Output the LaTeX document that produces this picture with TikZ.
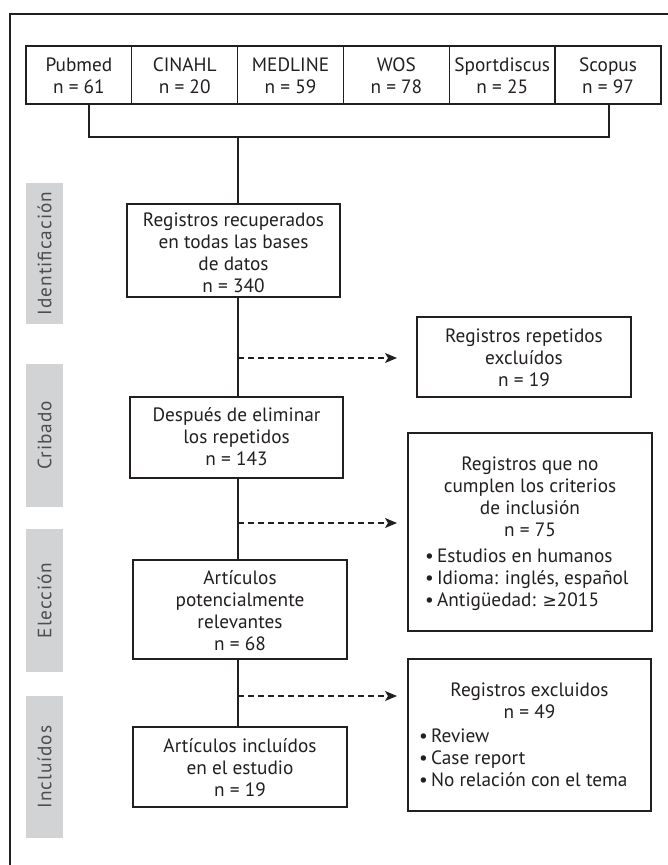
\documentclass[tikz,border=0pt]{standalone}
\usepackage{fontspec}
\setmainfont{PT Sans}
\newfontfamily\symf{DejaVu Sans}
\newfontfamily\lblfont[LetterSpace=5]{PT Sans}
\usetikzlibrary{arrows.meta}
\definecolor{ink}{HTML}{231F20}
\definecolor{bandc}{HTML}{D1D3D4}
\definecolor{lblc}{HTML}{4D4D4F}
\tikzset{
  box/.style={draw=ink, line width=1.3pt, fill=white, inner sep=0pt},
  txt/.style={text=ink, font=\fontsize{19.3}{22}\selectfont, align=center, inner sep=0pt},
  ltxt/.style={text=ink, font=\fontsize{19.3}{22}\selectfont, align=left, inner sep=0pt, anchor=west},
  bandbox/.style={fill=bandc, draw=none, inner sep=0pt, minimum width=37pt},
  lbl/.style={text=lblc, rotate=90, font=\lblfont\fontsize{19.3}{22}\selectfont, inner sep=0pt},
  link/.style={draw=ink, line width=1.3pt},
  dlink/.style={draw=ink, line width=1.3pt, dash pattern=on 6pt off 4pt, -{Stealth[length=12pt,width=10pt,inset=3pt]}},
}
\begin{document}
\begin{tikzpicture}[x=1pt,y=-1pt]
\useasboundingbox (0,0) rectangle (668,865);
% frame
\draw[ink, line width=2.4pt] (10,865) -- (10,14) -- (668,14);

% database boxes
\foreach \i/\nm/\lab/\n in {0/db1/Pubmed/61,1/db2/CINAHL/20,2/db3/MEDLINE/59,3/db4/WOS/78,4/db5/Sportdiscus/25,5/db6/Scopus/97}{
  \node[box, minimum width=105.8pt, minimum height=58pt] (\nm) at ({78.9+105.83*\i},75) {};
  \node[txt] (\nm t) at ({78.9+105.83*\i},78.4) {\strut\lab\\n = \n\strut};
}

% phase bands
\node[bandbox, minimum height=141pt] (bI) at (44.5,253.5) {};
\node[lbl] (lI) at (44.5,253.5) {Identificación};
\node[bandbox, minimum height=143pt] (bC) at (44.5,435.5) {};
\node[lbl] (lC) at (44.5,435.5) {Cribado};
\node[bandbox, minimum height=143pt] (bE) at (44.5,600.5) {};
\node[lbl] (lE) at (44.5,600.5) {Elección};
\node[bandbox, minimum height=142pt] (bN) at (44.5,767) {};
\node[lbl] (lN) at (44.5,767) {Incluídos};

% main boxes
\node[box, minimum width=213pt, minimum height=93pt] (b1) at (233.5,250.5) {};
\node[txt] (b1t) at (233.5,255) {\strut Registros recuperados\\en todas las bases\\de datos\\n = 340\strut};

\node[box, minimum width=213pt, minimum height=81pt] (b2) at (236.5,437.5) {};
\node[txt] (b2t) at (236.5,438.6) {\strut Después de eliminar\\los repetidos\\n = 143\strut};

\node[box, minimum width=214pt, minimum height=99pt] (b3) at (240,609.5) {};
\node[txt] (b3t) at (240,612.6) {\strut Artículos\\potencialmente\\relevantes\\n = 68\strut};

\node[box, minimum width=214pt, minimum height=80pt] (b4) at (240,767) {};
\node[txt] (b4t) at (240,769.6) {\strut Artículos incluídos\\en el estudio\\n = 19\strut};

% exclusion boxes
\node[box, minimum width=214pt, minimum height=80pt] (e1) at (524,357) {};
\node[txt] (e1t) at (524,359.6) {\strut Registros repetidos\\excluídos\\n = 19\strut};

\node[box, minimum width=244pt, minimum height=198pt] (e2) at (530,532) {};
\node[txt] (e2t) at (530,498.6) {\strut Registros que no\\cumplen los criterios\\de inclusión\\n = 75\strut};
\node[ltxt] (e2l) at (425,579.6) {\strut•\,Estudios en humanos\\•\,Idioma: inglés, español\\•\,Antigüedad: {\symf\fontsize{17}{22}\selectfont ≥}2015\strut};

\node[box, minimum width=243pt, minimum height=152pt] (e3) at (529.5,735) {};
\node[txt] (e3t) at (529.5,703.1) {\strut Registros excluidos\\n = 49\strut};
\node[ltxt] (e3l) at (419,760.1) {\strut•\,Review\\•\,Case report\\•\,No relación con el tema\strut};

% bracket
\coordinate (bl) at (89,137);
\coordinate (br) at (609,137);
\coordinate (bm) at (238,137);
\coordinate (mx) at (238,0);
\coordinate (tx) at (397,0);
\draw[link] (db1.south -| bl) -- (bl) -- (br) -- (db6.south -| br);
\draw[link] (bm) -- (b1.north -| mx);
\draw[link] (b1.south -| mx) -- (b2.north -| mx);
\draw[link] (b2.south -| mx) -- (b3.north -| mx);
\draw[link] (b3.south -| mx) -- (b4.north -| mx);

% dashed arrows
\coordinate (a1) at (238,358);
\coordinate (a2) at (238,523);
\coordinate (a3) at (238,696);
\draw[dlink] (a1) -- (a1 -| tx);
\draw[dlink] (a2) -- (a2 -| tx);
\draw[dlink] (a3) -- (a3 -| tx);
\end{tikzpicture}
\end{document}
